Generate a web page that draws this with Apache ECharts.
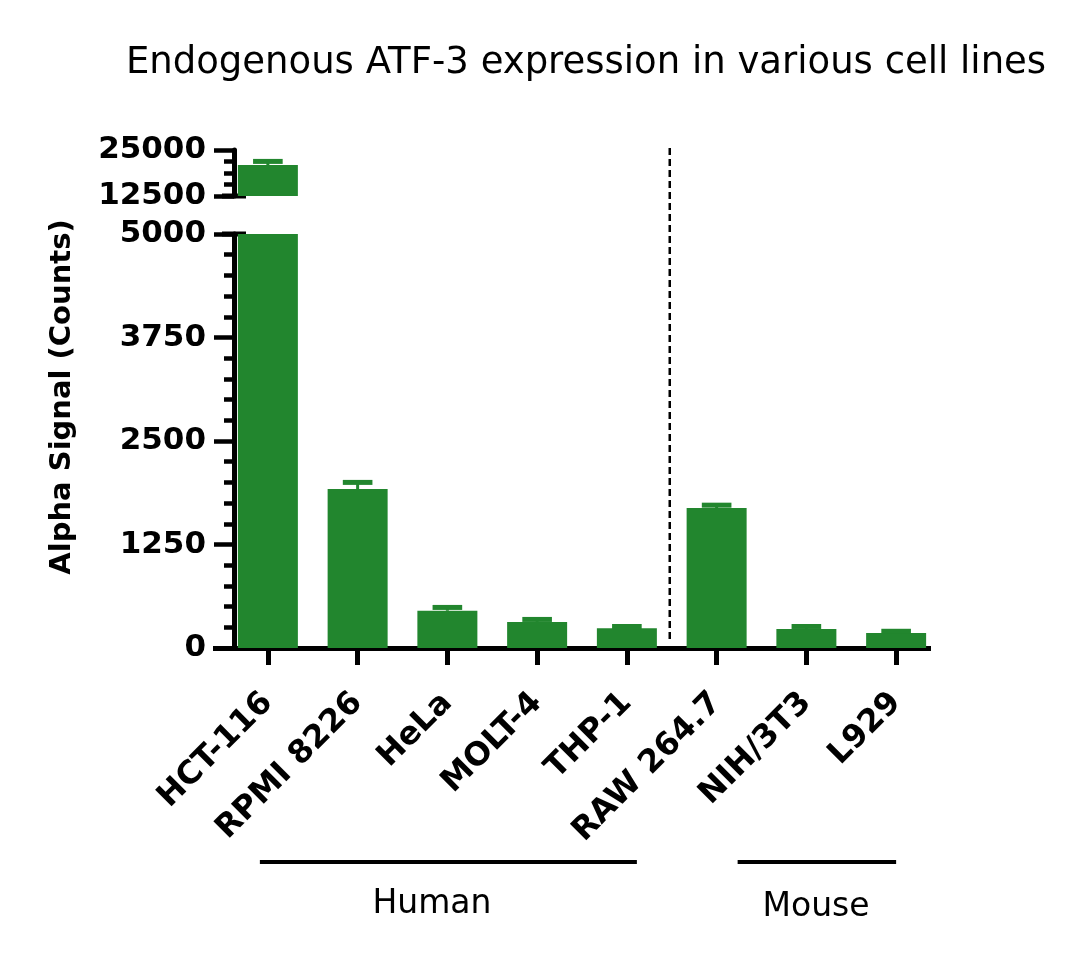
<!DOCTYPE html>
<html lang="en">
<head>
    <meta charset="UTF-8">
    <title>Endogenous ATF-3 expression</title>
    <style>
        * {
            margin: 0;
            padding: 0;
        }

        #chart {
            width: 1080px;
            height: 966px;
        }
    </style>
</head>
<body>
    <div id="chart"></div>

    <script src="https://cdn.jsdelivr.net/npm/echarts@6/dist/echarts.min.js"></script>
    <script>
        // data
        var cellLines = ['HCT-116', 'RPMI 8226', 'HeLa', 'MOLT-4', 'THP-1', 'RAW 264.7', 'NIH/3T3', 'L929'];
        var meanSignal = [20900, 1920, 450, 315, 240, 1690, 230, 180];
        var errUp = [1000, 80, 40, 30, 20, 35, 30, 22];
        var upperTicks = [12500, 25000];
        var lowerTicks = [0, 1250, 2500, 3750, 5000];
        var groupNames = ['Human', 'Mouse'];

        var green = '#22862e';
        var font = '"DejaVu Sans"';

        // layout
        var gridLeft = 223, gridW = 718;
        var upperTop = 150, upperH = 46;
        var lowerTop = 234, lowerH = 414;
        var axisX = 234;

        var chart = echarts.init(document.getElementById('chart'));

        var errData = meanSignal.map(function (v, i) {
            return [i, v, errUp[i]];
        });

        function renderErr(params, api) {
            var m = api.value(1), e = api.value(2);
            var base = api.coord([api.value(0), m]);
            var top = api.coord([api.value(0), m + e]);
            var capW = api.size([1, 0])[0] * 0.33;
            return {
                type: 'group',
                children: [{
                    type: 'rect',
                    shape: { x: base[0] - 1.5, y: top[1], width: 3, height: base[1] - top[1] },
                    style: { fill: green }
                }, {
                    type: 'rect',
                    shape: { x: top[0] - capW / 2, y: top[1] - 2.5, width: capW, height: 5 },
                    style: { fill: green }
                }]
            };
        }

        function yAxisFor(ticks, gridIdx, minorSplit) {
            return {
                type: 'value',
                gridIndex: gridIdx,
                min: ticks[0],
                max: ticks[ticks.length - 1],
                interval: ticks[1] - ticks[0],
                offset: -(axisX - gridLeft),
                splitLine: { show: false },
                axisLine: { show: true, lineStyle: { color: '#000', width: 5 } },
                axisTick: { show: true, length: 20, lineStyle: { color: '#000', width: 4.5 } },
                minorTick: { show: true, splitNumber: minorSplit, length: 10, lineStyle: { color: '#000', width: 4.5 } },
                axisLabel: {
                    color: '#000', fontFamily: font, fontWeight: 'bold', fontSize: 31, margin: 28,
                    formatter: function (v) { return String(v); }
                }
            };
        }

        var option = {
            animation: false,
            backgroundColor: '#fff',
            title: {
                text: 'Endogenous ATF-3 expression in various cell lines',
                left: 581,
                textAlign: 'center',
                top: 40,
                textStyle: { fontFamily: font, fontWeight: 'normal', fontSize: 37, color: '#000' }
            },
            grid: [
                { left: gridLeft, width: gridW, top: upperTop, height: upperH },
                { left: gridLeft, width: gridW, top: lowerTop, height: lowerH }
            ],
            xAxis: [{
                type: 'category',
                gridIndex: 0,
                data: cellLines,
                show: false
            }, {
                type: 'category',
                gridIndex: 1,
                data: cellLines,
                axisLine: { show: false },
                axisTick: { show: true, alignWithLabel: true, length: 17, lineStyle: { color: '#000', width: 5 } },
                axisLabel: {
                    rotate: 45, margin: 50, interval: 0, color: '#000',
                    fontFamily: font, fontWeight: 'bold', fontSize: 32
                }
            }],
            yAxis: [
                yAxisFor(upperTicks, 0, 4),
                yAxisFor(lowerTicks, 1, 5)
            ],
            series: [{
                type: 'bar',
                xAxisIndex: 0,
                yAxisIndex: 0,
                data: meanSignal,
                barWidth: 60,
                itemStyle: { color: green }
            }, {
                type: 'bar',
                xAxisIndex: 1,
                yAxisIndex: 1,
                data: meanSignal,
                barWidth: 60,
                itemStyle: { color: green }
            }, {
                type: 'custom',
                xAxisIndex: 0,
                yAxisIndex: 0,
                clip: true,
                renderItem: renderErr,
                encode: { x: 0, y: 1 },
                data: errData,
                z: 3
            }, {
                type: 'custom',
                xAxisIndex: 1,
                yAxisIndex: 1,
                clip: true,
                renderItem: renderErr,
                encode: { x: 0, y: 1 },
                data: errData,
                z: 3
            }]
        };

        chart.setOption(option);

        // decorations placed from the axis scales
        function px(i) {
            return chart.convertToPixel({ xAxisIndex: 1 }, i);
        }
        var yBase = lowerTop + lowerH + 0.5;
        var divX = (px(4) + px(5)) / 2 - 2;
        var lineStyle = { stroke: '#000', lineWidth: 4 };

        chart.setOption({
            graphic: [{
                type: 'line',
                shape: { x1: axisX - 21, y1: yBase, x2: gridLeft + gridW - 10, y2: yBase },
                style: { stroke: '#000', lineWidth: 5 }
            }, {
                type: 'line',
                shape: { x1: axisX - 12, y1: upperTop + upperH, x2: axisX + 12, y2: upperTop + upperH },
                style: { stroke: '#000', lineWidth: 5 }
            }, {
                type: 'line',
                shape: { x1: axisX - 12, y1: lowerTop, x2: axisX + 12, y2: lowerTop },
                style: { stroke: '#000', lineWidth: 5 }
            }, {
                type: 'line',
                shape: { x1: divX, y1: 148, x2: divX, y2: 640 },
                style: { stroke: '#000', lineWidth: 2.5, lineDash: [7, 4] }
            }, {
                type: 'line',
                shape: { x1: px(0) - 8, y1: 862, x2: px(4) + 10, y2: 862 },
                style: lineStyle
            }, {
                type: 'line',
                shape: { x1: px(5) + 21, y1: 862, x2: px(7), y2: 862 },
                style: lineStyle
            }, {
                type: 'text',
                x: 432,
                y: 904,
                style: {
                    text: groupNames[0], fill: '#000', font: '33px ' + font,
                    textAlign: 'center', textVerticalAlign: 'middle'
                }
            }, {
                type: 'text',
                x: 816,
                y: 907,
                style: {
                    text: groupNames[1], fill: '#000', font: '33px ' + font,
                    textAlign: 'center', textVerticalAlign: 'middle'
                }
            }, {
                type: 'text',
                x: 62,
                y: 397,
                rotation: Math.PI / 2,
                style: {
                    text: 'Alpha Signal (Counts)', fill: '#000', font: 'bold 29px ' + font,
                    textAlign: 'center', textVerticalAlign: 'middle'
                }
            }]
        });
    </script>
</body>
</html>
